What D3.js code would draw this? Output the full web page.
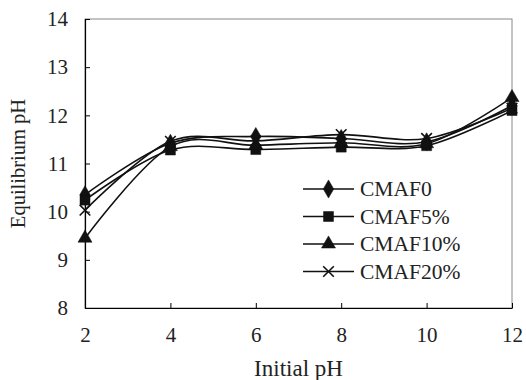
<!DOCTYPE html>
<html>
<head>
<meta charset="utf-8">
<script src="https://cdn.jsdelivr.net/npm/d3@7"></script>
<style>
  body { margin: 0; background: #fff; }
  text { font-family: "Liberation Serif", "Times New Roman", serif; fill: #222; }
</style>
</head>
<body>
<div id="chart"></div>
<script>
const initialPH = [2, 4, 6, 8, 10, 12];
const cmaf0 = [10.35, 11.42, 11.56, 11.52, 11.45, 12.2];
const cmaf5 = [10.24, 11.28, 11.29, 11.34, 11.37, 12.1];
const cmaf10 = [9.45, 11.35, 11.38, 11.43, 11.41, 12.37];
const cmaf20 = [10.03, 11.46, 11.47, 11.6, 11.52, 12.15];
const seriesNames = ['CMAF0', 'CMAF5%', 'CMAF10%', 'CMAF20%'];
const seriesShapes = ['diamond', 'square', 'triangle', 'cross'];
const xTicks = [2, 4, 6, 8, 10, 12];
const yTicks = [8, 9, 10, 11, 12, 13, 14];

const W = 526, H = 380;
const margin = { top: 19, right: 14, bottom: 72, left: 85 };
const width = W - margin.left - margin.right;
const height = H - margin.top - margin.bottom;

const series = [cmaf0, cmaf5, cmaf10, cmaf20].map((vals, i) => ({
  name: seriesNames[i],
  shape: seriesShapes[i],
  points: vals.map((v, j) => ({ x: initialPH[j], y: v }))
}));

const svg = d3.select('#chart').append('svg')
  .attr('width', W).attr('height', H);

const g = svg.append('g').attr('transform', `translate(${margin.left},${margin.top})`);

const x = d3.scaleLinear().domain([2, 12]).range([0, width]);
const y = d3.scaleLinear().domain([8, 14]).range([height, 0]);

// plot area border
g.append('rect')
  .attr('width', width).attr('height', height)
  .attr('fill', 'none').attr('stroke', '#888').attr('stroke-width', 1);

// axes
const xAxis = g.append('g').attr('transform', `translate(0,${height})`)
  .call(d3.axisBottom(x).tickValues(xTicks).tickFormat(d3.format('d'))
    .tickSizeInner(-5).tickSizeOuter(0).tickPadding(19));
const yAxis = g.append('g')
  .call(d3.axisLeft(y).tickValues(yTicks).tickFormat(d3.format('d'))
    .tickSizeInner(-5).tickSizeOuter(0).tickPadding(17));

[xAxis, yAxis].forEach(a => {
  a.attr('font-family', null);
  a.select('.domain').attr('stroke', '#000').attr('stroke-width', 1.2);
  a.selectAll('.tick line').attr('stroke', '#000');
  a.selectAll('.tick text')
    .style('font-family', '"Liberation Serif", serif')
    .style('font-size', '21px')
    .attr('fill', '#222');
});

// axis titles
svg.append('text')
  .attr('x', margin.left + width / 2).attr('y', 376)
  .attr('text-anchor', 'middle').style('font-size', '23px')
  .text('Initial pH');
svg.append('text')
  .attr('transform', `translate(25,${margin.top + height / 2}) rotate(-90)`)
  .attr('text-anchor', 'middle').style('font-size', '20.5px')
  .text('Equilibrium pH');

const line = d3.line()
  .x(d => x(d.x)).y(d => y(d.y))
  .curve(d3.curveCardinal);

const symbolFor = shape => {
  if (shape === 'diamond') return d3.symbol(d3.symbolDiamond, 95)();
  if (shape === 'square') return d3.symbol(d3.symbolSquare, 100)();
  if (shape === 'triangle') return d3.symbol(d3.symbolTriangle, 85)();
  return d3.symbol(d3.symbolX, 75)();
};

const drawMarker = (sel, shape) => {
  sel.append('path')
    .attr('d', symbolFor(shape))
    .attr('fill', shape === 'cross' ? 'none' : '#111')
    .attr('stroke', '#111')
    .attr('stroke-width', shape === 'cross' ? 1.6 : 0.5);
};

series.forEach(s => {
  g.append('path')
    .datum(s.points)
    .attr('fill', 'none')
    .attr('stroke', '#111')
    .attr('stroke-width', 1.6)
    .attr('d', line);
});

series.forEach(s => {
  s.points.forEach(p => {
    const m = g.append('g').attr('transform', `translate(${x(p.x)},${y(p.y)})`);
    drawMarker(m, s.shape);
  });
});

// legend
const legend = svg.append('g').attr('transform', 'translate(303,189)');
series.forEach((s, i) => {
  const row = legend.append('g').attr('transform', `translate(0,${i * 27.5})`);
  row.append('line')
    .attr('x1', 0).attr('x2', 51).attr('y1', 0).attr('y2', 0)
    .attr('stroke', '#111').attr('stroke-width', 1.6);
  drawMarker(row.append('g').attr('transform', 'translate(25.5,0)'), s.shape);
  row.append('text')
    .attr('x', 57).attr('y', 7)
    .style('font-size', '21.5px')
    .text(s.name);
});
</script>
</body>
</html>
